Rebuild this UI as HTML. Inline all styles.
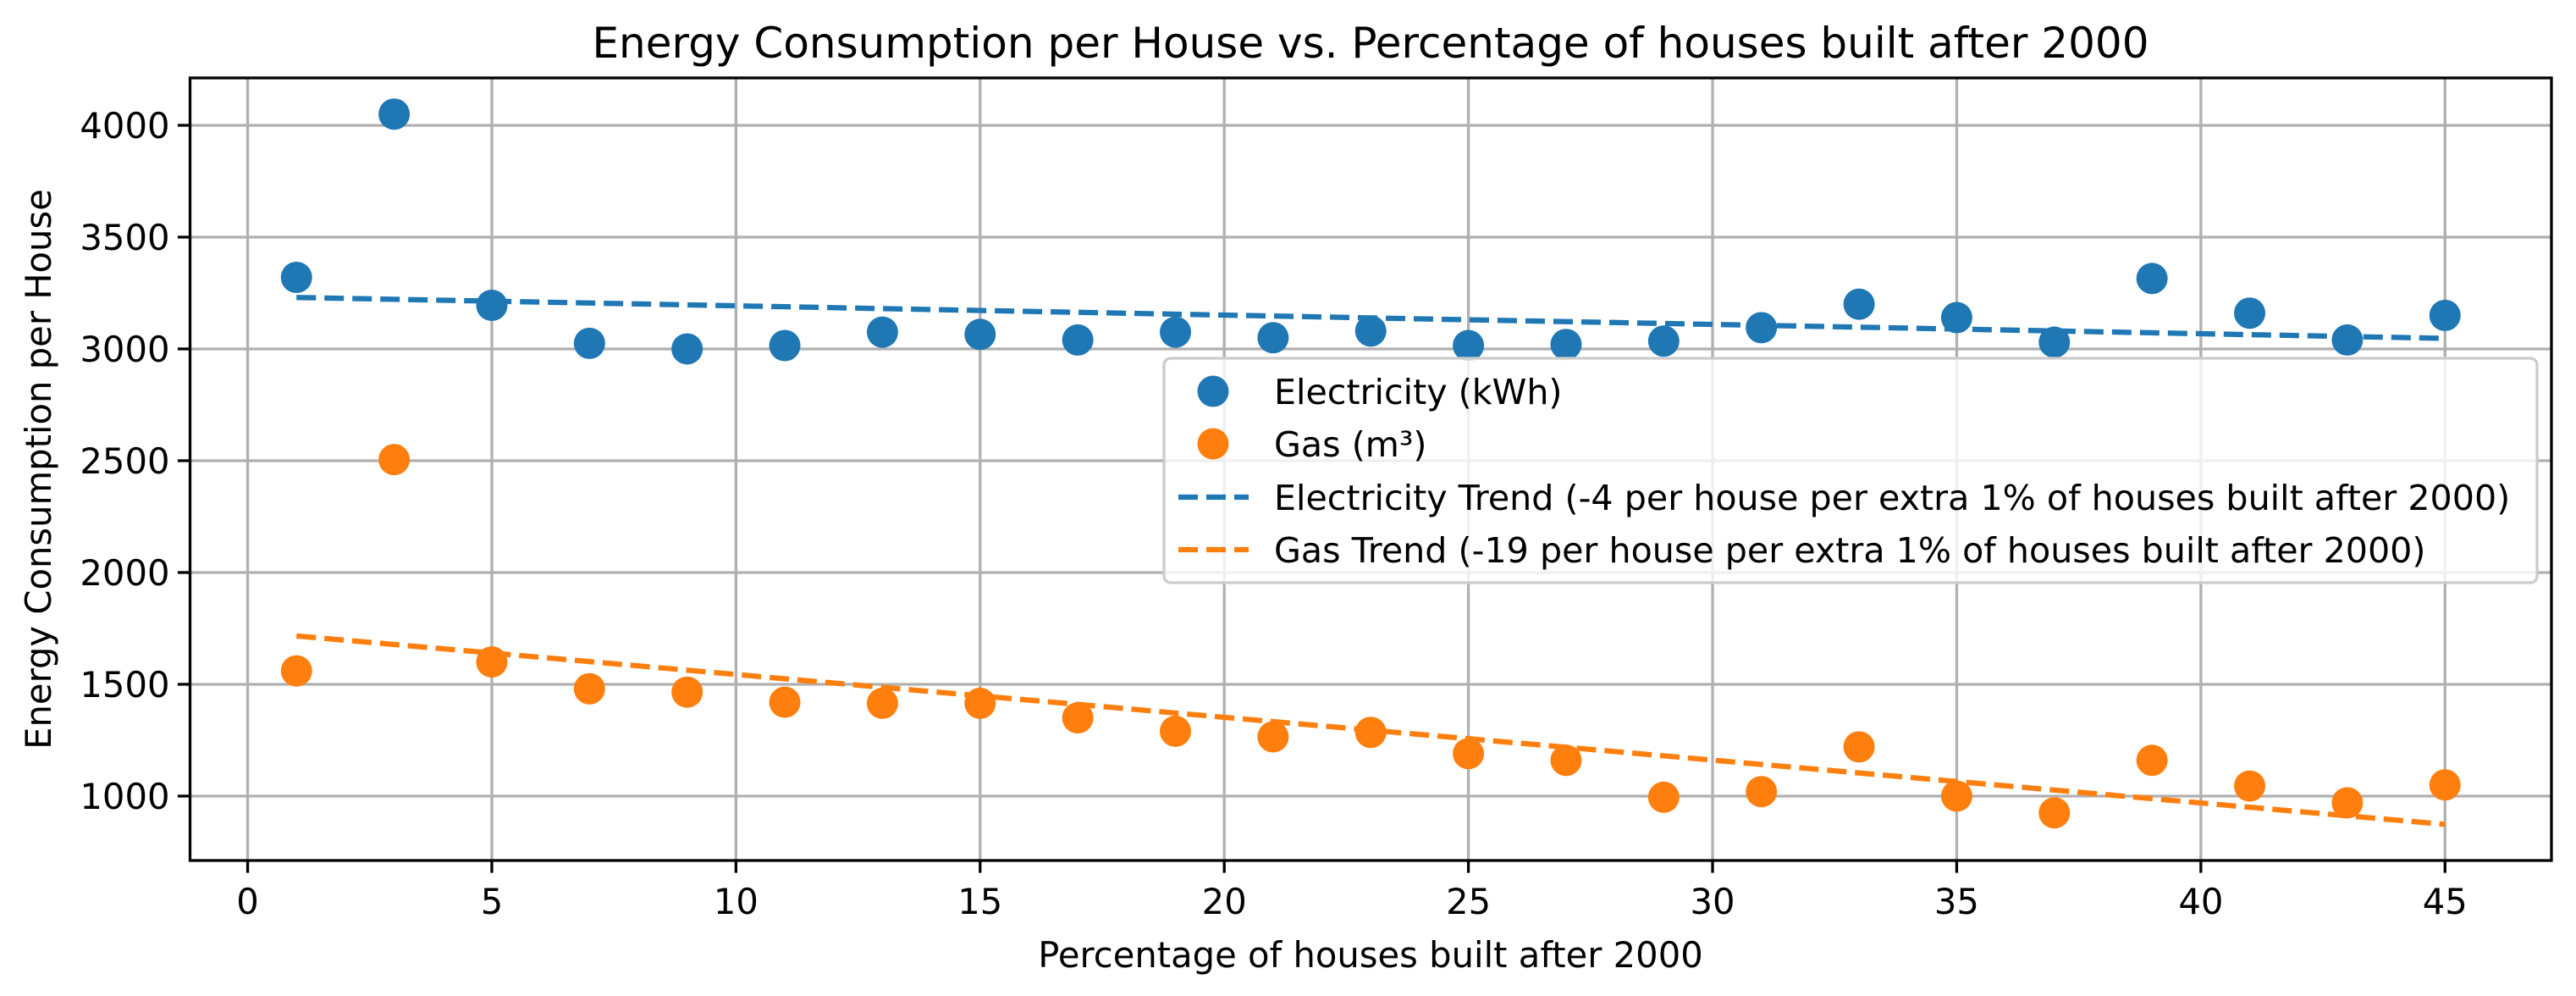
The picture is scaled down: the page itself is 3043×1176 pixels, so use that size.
<!DOCTYPE html>
<html><head><meta charset="utf-8"><style>
html,body{margin:0;padding:0;background:#fff;}
svg{display:block;font-family:"DejaVu Sans","Liberation Sans",sans-serif;}
</style></head><body>
<svg id="chart" width="3043" height="1176" viewBox="0 0 3043 1176" xmlns="http://www.w3.org/2000/svg">
<rect width="3043" height="1176" fill="#fff"/>
<g id="grid"></g><g id="trends"></g><g id="points"></g><g id="axes"></g><g id="legend"></g>
<text x="1619" y="68" text-anchor="middle" font-size="50">Energy Consumption per House vs. Percentage of houses built after 2000</text>
<text x="1619" y="1142" text-anchor="middle" font-size="41.7">Percentage of houses built after 2000</text>
<text transform="translate(60,554) rotate(-90)" text-anchor="middle" font-size="41.7">Energy Consumption per House</text>
</svg>
<script>
const xValues=[1,3,5,7,9,11,13,15,17,19,21,23,25,27,29,31,33,35,37,39,41,43,45];
const electricity=[3320,4050,3195,3025,3000,3015,3075,3065,3040,3075,3050,3080,3015,3020,3035,3095,3200,3140,3030,3315,3160,3040,3150];
const gas=[1560,2505,1600,1480,1465,1420,1415,1415,1350,1290,1265,1285,1190,1160,995,1020,1220,1000,925,1160,1045,970,1050];
const xTicks=[0,5,10,15,20,25,30,35,40,45];
const yTicks=[1000,1500,2000,2500,3000,3500,4000];
const legendLabels=["Electricity (kWh)","Gas (m³)","Electricity Trend (-4 per house per extra 1% of houses built after 2000)","Gas Trend (-19 per house per extra 1% of houses built after 2000)"];
const NS="http://www.w3.org/2000/svg";
const L=224.5,R=3014,T=92,B=1016;
const xMin=-1.18,xMax=47.18,yMin=712,yMax=4212;
function sx(v){return L+(v-xMin)/(xMax-xMin)*(R-L);}
function sy(v){return B-(v-yMin)/(yMax-yMin)*(B-T);}
function mk(tag,attrs,parent){const e=document.createElementNS(NS,tag);for(const k in attrs)e.setAttribute(k,attrs[k]);parent.appendChild(e);return e;}
const grid=document.getElementById('grid'),axes=document.getElementById('axes'),pts=document.getElementById('points'),tr=document.getElementById('trends'),lg=document.getElementById('legend');
xTicks.forEach(t=>{
 const g=mk('line',{x1:sx(t),x2:sx(t),y1:T,y2:B,stroke:'#b0b0b0','stroke-width':3.3},grid);
 
 
 const tk=mk('line',{x1:sx(t),x2:sx(t),y1:B,y2:B+14.6,stroke:'#000','stroke-width':3.3},axes);
 
 
 const lb=mk('text',{x:sx(t),y:B+63,'text-anchor':'middle','font-size':41.7},axes);
 lb.textContent=t;
 
 
});
yTicks.forEach(t=>{
 const g=mk('line',{x1:L,x2:R,y1:sy(t),y2:sy(t),stroke:'#b0b0b0','stroke-width':3.3},grid);
 
 
 const tk=mk('line',{x1:L-14.6,x2:L,y1:sy(t),y2:sy(t),stroke:'#000','stroke-width':3.3},axes);
 
 
 const lb=mk('text',{x:L-24,y:sy(t)+15,'text-anchor':'end','font-size':41.7},axes);
 lb.textContent=t;
 
 
});
const frame=mk('rect',{x:L,y:T,width:R-L,height:B-T,fill:'none',stroke:'#000','stroke-width':3.3},axes);


function fit(xs,ys){const n=xs.length;const mx=xs.reduce((a,b)=>a+b)/n,my=ys.reduce((a,b)=>a+b)/n;let num=0,den=0;for(let i=0;i<n;i++){num+=(xs[i]-mx)*(ys[i]-my);den+=(xs[i]-mx)**2;}const m=num/den;return [m,my-m*mx];}
[[electricity,'#1f77b4','electricity-trend'],[gas,'#ff7f0e','gas-trend']].forEach(([ys,c,name])=>{
 const [m,b]=fit(xValues,ys);const x0=xValues[0],x1=xValues[xValues.length-1];
 const l=mk('line',{x1:sx(x0),y1:sy(m*x0+b),x2:sx(x1),y2:sy(m*x1+b),stroke:c,'stroke-width':6.25,'stroke-dasharray':'23 10'},tr);
 
 
});
[[electricity,'#1f77b4','electricity-point'],[gas,'#ff7f0e','gas-point']].forEach(([ys,c,name])=>{
 ys.forEach((v,i)=>{
  const p=mk('circle',{cx:sx(xValues[i]),cy:sy(v),r:18.5,fill:c},pts);
  
  
 });
});
const box=mk('rect',{x:1375,y:423,width:1622,height:265,rx:8,fill:'#fff','fill-opacity':0.8,stroke:'#ccc','stroke-width':3.3},lg);


const rowsY=[462,524,587,649];
const colors=['#1f77b4','#ff7f0e','#1f77b4','#ff7f0e'];
legendLabels.forEach((txt,i)=>{
 if(i<2){const c=mk('circle',{cx:1433,cy:rowsY[i],r:18.5,fill:colors[i]},lg);
  
  }
 else{const l=mk('line',{x1:1392,x2:1475,y1:rowsY[i],y2:rowsY[i],stroke:colors[i],'stroke-width':6.25,'stroke-dasharray':'23 10'},lg);
  
  }
 const t=mk('text',{x:1505,y:rowsY[i]+15,'font-size':41.2},lg);
 t.textContent=txt;
 
 
});
</script>
</body></html>
